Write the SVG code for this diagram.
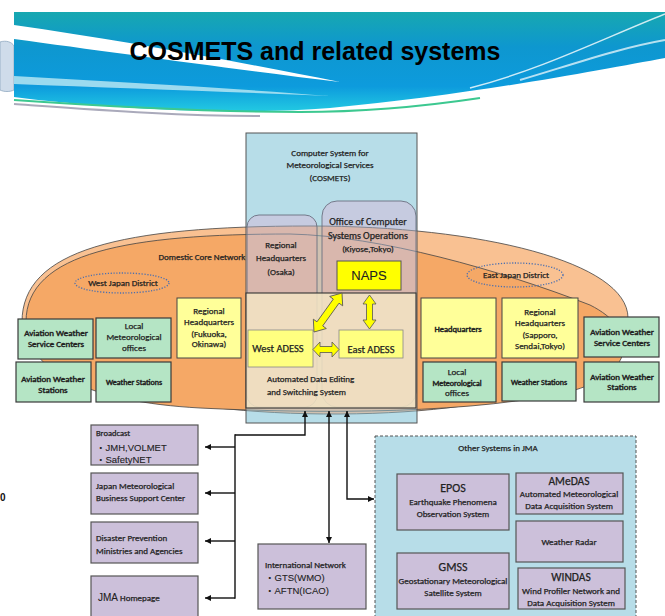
<svg xmlns="http://www.w3.org/2000/svg" width="665" height="616" viewBox="0 0 665 616">
<defs>
  <linearGradient id="bannerGrad" x1="0" y1="0" x2="0" y2="1">
    <stop offset="0" stop-color="#17A8B0"/>
    <stop offset="0.35" stop-color="#0E97CF"/>
    <stop offset="0.75" stop-color="#0D9BDD"/>
    <stop offset="1" stop-color="#22C9E2"/>
  </linearGradient>
  <clipPath id="cosClip"><rect x="246" y="133" width="171" height="290"/></clipPath>
  <marker id="ah" viewBox="0 0 10 10" refX="10" refY="5" markerWidth="6" markerHeight="7" markerUnits="userSpaceOnUse" orient="auto-start-reverse">
    <path d="M0,0 L10,5 L0,10 Z" fill="#111"/>
  </marker>
  <style>
    .t { font-family: Carlito, "Liberation Sans Narrow", "Liberation Sans", "Noto Sans CJK JP", sans-serif; font-size: 9px; fill: #222; stroke: #222; stroke-width: 0.25; text-anchor: middle; }
    .s { text-anchor: start; }
    .b { stroke-width: 0.45; }
    .a { font-family: "Liberation Sans", Arial, "Noto Sans CJK JP", sans-serif; stroke-width: 0.1; }
    .f8 { font-size: 8px; }
    .f85 { font-size: 8.5px; }
    .f95 { font-size: 9.5px; }
    .f10 { font-size: 10px; }
    .f105 { font-size: 10.5px; }
    .f115 { font-size: 11.5px; }
    .f12 { font-size: 12px; }
    .f13 { font-size: 13px; }
    .green { fill: #B5E5C5; stroke: #3A3A3A; stroke-width: 1.2; }
    .yel { fill: #FFFF99; stroke: #444; stroke-width: 1; }
    .pur { fill: #CCC0DA; stroke: #555; stroke-width: 1.2; }
    .conn { fill: none; stroke: #111; stroke-width: 1.4; }
    .barrow { fill: #FFFF00; stroke: #555; stroke-width: 0.8; }
    .ell { stroke: #444; stroke-width: 0.8; }
    .dist { fill: none; stroke: #4A6FB0; stroke-width: 1.3; stroke-dasharray: 1.2,1.6; }
  </style>
</defs>

<!-- page background -->
<rect x="0" y="0" width="665" height="616" fill="#FFFFFF"/>

<!-- banner -->
<g id="banner">
  <path d="M0,42 C6,40 12,42 14,46 V90 C10,92 4,92 0,90 Z" fill="#CFDCEA" stroke="#8FA8C0" stroke-width="0.8"/>
  <path d="M14,12 H665 V58 C600,70 470,95 330,108 C230,116 100,108 14,97 Z" fill="url(#bannerGrad)"/>
  <path d="M14,25 C120,40 240,62 340,82 C240,70 110,52 14,39 Z" fill="#FFFFFF"/>
  <path d="M14,76 C120,82 230,88 330,96 C230,92 120,88 14,84 Z" fill="#BFEAF4" opacity="0.8"/>
  <path d="M470,88 C540,70 600,40 665,14" stroke="#FFFFFF" stroke-width="1.5" fill="none" opacity="0.8"/>
  <path d="M520,80 C580,62 620,48 665,40" stroke="#FFFFFF" stroke-width="2" fill="none" opacity="0.7"/>
  <path d="M14,100 C100,106 200,112 300,112 C380,112 440,104 480,98" stroke="#3CC890" stroke-width="2" fill="none"/>
  <path d="M14,104 C100,110 180,116 260,116" stroke="#AAAABB" stroke-width="2" fill="none"/>
  <text x="315" y="60" font-family="Liberation Sans, Arial, sans-serif" font-weight="bold" font-size="25" text-anchor="middle" fill="#000">COSMETS and related systems</text>
</g>
<text x="0" y="501" font-family="Liberation Sans, Arial, sans-serif" font-weight="bold" font-size="10" fill="#111">0</text>

<!-- networks -->
<g id="domestic-core-network">
  <path class="ell" d="M22,322 C22,250 120,226 310,226 C480,226 628,262 628,318 C628,372 520,413 340,414 C160,415 22,375 22,322 Z" fill="#F9C192"/>
  <path class="ell" d="M26,322 C26,252 130,234 290,234 C380,236 500,270 590,305 C640,330 635,372 575,390 C480,414 320,414 200,408 C90,402 26,372 26,322 Z" fill="#F5A866"/>
  <text class="t" x="202" y="260">Domestic Core Network</text>
</g>

<g id="west-japan-district">
  <ellipse class="dist" cx="122" cy="283" rx="47" ry="10"/>
  <text class="t" x="123" y="286">West Japan District</text>
</g>
<g id="east-japan-district">
  <ellipse class="dist" cx="515" cy="275" rx="48" ry="12"/>
  <text class="t" x="516" y="278">East Japan District</text>
</g>

<!-- COSMETS -->
<g id="cosmets">
  <rect x="246" y="133" width="171" height="290" fill="#B7DDE8" stroke="#555" stroke-width="1"/>
  <text class="t" x="330" y="156">Computer System for</text>
  <text class="t" x="330" y="168">Meteorological Services</text>
  <text class="t" x="330" y="181">(COSMETS)</text>
</g>
<g id="regional-hq-osaka">
  <rect x="247" y="215" width="70" height="192" rx="12" fill="#C6CBE0"/>
</g>
<g id="office-computer-systems">
  <rect x="322" y="201" width="94" height="206" rx="15" fill="#C6CBE0"/>
</g>
<g clip-path="url(#cosClip)" opacity="0.45">
  <path d="M22,322 C22,250 120,226 310,226 C480,226 628,262 628,318 C628,372 520,413 340,414 C160,415 22,375 22,322 Z" fill="#F0A070" stroke="#333" stroke-width="1"/>
  <path d="M26,322 C26,252 130,234 290,234 C380,236 500,270 590,305 C640,330 635,372 575,390 C480,414 320,414 200,408 C90,402 26,372 26,322 Z" fill="#F0A070" stroke="#333" stroke-width="1"/>
</g>
<rect x="247" y="215" width="70" height="192" rx="12" fill="none" stroke="#6A6F80" stroke-width="0.9"/>
<rect x="322" y="201" width="94" height="206" rx="15" fill="none" stroke="#6A6F80" stroke-width="0.9"/>
<text class="t" x="281" y="248">Regional</text>
<text class="t" x="281" y="261">Headquarters</text>
<text class="t" x="281" y="275">(Osaka)</text>
<text class="t f10" x="368" y="225">Office of Computer</text>
<text class="t f10" x="368" y="239">Systems Operations</text>
<text class="t" x="368" y="252">(Kiyose,Tokyo)</text>

<g id="naps">
  <rect x="337" y="261" width="64" height="29" fill="#FFFF00" stroke="#555" stroke-width="1"/>
  <text class="t a f13" x="369" y="280">NAPS</text>
</g>

<g id="adess">
  <rect x="246" y="293" width="170" height="115" fill="#F1E2C3" fill-opacity="0.88" stroke="#333" stroke-width="1.1"/>
  <text class="t s" x="267" y="382">Automated  Data Editing</text>
  <text class="t s" x="267" y="395">and Switching System</text>
</g>
<g id="west-adess">
  <rect x="248" y="330" width="65" height="37" fill="#FFFF80" stroke="#888" stroke-width="0.8"/>
  <text class="t f105" x="278" y="352">West ADESS</text>
</g>
<g id="east-adess">
  <rect x="339" y="330" width="64" height="28" fill="#FFFF80" stroke="#888" stroke-width="0.8"/>
  <text class="t f105" x="371" y="353">East ADESS</text>
</g>

<!-- block arrows -->
<g id="block-arrows">
  <polygon class="barrow" transform="translate(326,349.5)" points="-13,0 -6,-7.5 -6,-3 6,-3 6,-7.5 13,0 6,7.5 6,3 -6,3 -6,7.5"/>
  <polygon class="barrow" transform="translate(369.5,312) rotate(90)" points="-17,0 -8,-6.5 -8,-3 8,-3 8,-6.5 17,0 8,6.5 8,3 -8,3 -8,6.5"/>
  <polygon class="barrow" transform="translate(328,312.5) rotate(125.7)" points="-24,0 -14,-8 -14,-3.5 14,-3.5 14,-8 24,0 14,8 14,3.5 -14,3.5 -14,8"/>
</g>

<!-- West boxes -->
<g id="west-aviation-service-centers">
  <rect class="green" x="18" y="319" width="75" height="40"/>
  <text class="t b" x="56" y="336">Aviation Weather</text>
  <text class="t b" x="56" y="347">Service Centers</text>
</g>
<g id="west-local-offices">
  <rect class="green" x="96" y="318" width="75" height="40"/>
  <text class="t" x="134" y="329">Local</text>
  <text class="t" x="134" y="340">Meteorological</text>
  <text class="t" x="134" y="351">offices</text>
</g>
<g id="west-aviation-stations">
  <rect class="green" x="16" y="362" width="75" height="40"/>
  <text class="t b" x="53" y="382">Aviation Weather</text>
  <text class="t b" x="53" y="393">Stations</text>
</g>
<g id="west-weather-stations">
  <rect class="green" x="96" y="362" width="75" height="40"/>
  <text class="t b f8" x="134" y="385">Weather Stations</text>
</g>
<g id="regional-hq-fukuoka">
  <rect class="yel" x="177" y="298" width="64" height="60"/>
  <text class="t" x="209" y="314">Regional</text>
  <text class="t" x="209" y="325">Headquarters</text>
  <text class="t" x="209" y="337">(Fukuoka,</text>
  <text class="t" x="209" y="347">Okinawa)</text>
</g>

<!-- East boxes -->
<g id="headquarters">
  <rect class="yel" x="421" y="298" width="75" height="60"/>
  <text class="t b f85" x="458" y="332">Headquarters</text>
</g>
<g id="regional-hq-sapporo">
  <rect class="yel" x="502" y="298" width="76" height="60"/>
  <text class="t" x="540" y="315">Regional</text>
  <text class="t" x="540" y="326">Headquarters</text>
  <text class="t" x="540" y="338">(Sapporo,</text>
  <text class="t" x="540" y="349">Sendai,Tokyo)</text>
</g>
<g id="east-aviation-service-centers">
  <rect class="green" x="584" y="317" width="75" height="40"/>
  <text class="t b" x="622" y="335">Aviation Weather</text>
  <text class="t b" x="622" y="346">Service Centers</text>
</g>
<g id="east-local-offices">
  <rect class="green" x="423" y="362" width="73" height="40"/>
  <text class="t" x="457" y="375">Local</text>
  <text class="t b f8" x="457" y="386">Meteorological</text>
  <text class="t" x="457" y="396">offices</text>
</g>
<g id="east-weather-stations">
  <rect class="green" x="502" y="362" width="74" height="39"/>
  <text class="t b f8" x="539" y="385">Weather Stations</text>
</g>
<g id="east-aviation-stations">
  <rect class="green" x="584" y="362" width="75" height="40"/>
  <text class="t b" x="622" y="380">Aviation Weather</text>
  <text class="t b" x="622" y="390">Stations</text>
</g>

<!-- Bottom left boxes -->
<g id="broadcast">
  <rect class="pur" x="91" y="425" width="107" height="40"/>
  <text class="t s f85" x="96" y="436">Broadcast</text>
  <text class="t s a f95" x="96" y="451">・JMH,VOLMET</text>
  <text class="t s a f95" x="96" y="463">・SafetyNET</text>
</g>
<g id="jmbsc">
  <rect class="pur" x="91" y="473" width="107" height="41"/>
  <text class="t s" x="96" y="489">Japan  Meteorological</text>
  <text class="t s" x="96" y="501">Business Support Center</text>
</g>
<g id="disaster-prevention">
  <rect class="pur" x="91" y="522" width="107" height="41"/>
  <text class="t s" x="96" y="541">Disaster Prevention</text>
  <text class="t s" x="96" y="554">Ministries and Agencies</text>
</g>
<g id="jma-homepage">
  <rect class="pur" x="91" y="576" width="107" height="50"/>
  <text class="t s" x="98" y="601"><tspan class="a f10">JMA</tspan> Homepage</text>
</g>

<g id="international-network">
  <rect class="pur" x="258" y="544" width="108" height="65"/>
  <text class="t s" x="265" y="568">International Network</text>
  <text class="t s a f95" x="265" y="581">・GTS(WMO)</text>
  <text class="t s a f95" x="265" y="594">・AFTN(ICAO)</text>
</g>

<!-- Other systems -->
<g id="other-systems">
  <rect x="375" y="436" width="261" height="190" fill="#B7DDE8" stroke="#555" stroke-width="1" stroke-dasharray="3,2"/>
  <text class="t" x="498" y="451">Other Systems in JMA</text>
</g>
<g id="epos">
  <rect class="pur" x="397" y="474" width="112" height="56"/>
  <text class="t f12" x="453" y="492">EPOS</text>
  <text class="t" x="453" y="505">Earthquake Phenomena</text>
  <text class="t" x="453" y="517">Observation System</text>
</g>
<g id="amedas">
  <rect class="pur" x="516" y="473" width="107" height="41"/>
  <text class="t f115" x="569" y="485">AMeDAS</text>
  <text class="t" x="569" y="497">Automated  Meteorological</text>
  <text class="t" x="569" y="509">Data Acquisition  System</text>
</g>
<g id="weather-radar">
  <rect class="pur" x="516" y="521" width="107" height="41"/>
  <text class="t" x="569" y="545">Weather Radar</text>
</g>
<g id="gmss">
  <rect class="pur" x="397" y="553" width="112" height="56"/>
  <text class="t f12" x="453" y="571">GMSS</text>
  <text class="t" x="453" y="584">Geostationary Meteorological</text>
  <text class="t" x="453" y="596">Satellite System</text>
</g>
<g id="windas">
  <rect class="pur" x="518" y="568" width="107" height="41"/>
  <text class="t f115" x="571" y="581">WINDAS</text>
  <text class="t" x="571" y="594">Wind Profiler Network and</text>
  <text class="t" x="571" y="606">Data Acquisition  System</text>
</g>

<!-- connectors -->
<g id="connectors">
  <path class="conn" d="M235,435 H305 V411" marker-end="url(#ah)"/>
  <path class="conn" d="M235,434.3 V598.7"/>
  <path class="conn" d="M235,447 H205" marker-end="url(#ah)"/>
  <path class="conn" d="M235,493 H205" marker-end="url(#ah)"/>
  <path class="conn" d="M235,541 H205" marker-end="url(#ah)"/>
  <path class="conn" d="M235,598 H205" marker-end="url(#ah)"/>
  <path class="conn" d="M329,411 V543" marker-start="url(#ah)" marker-end="url(#ah)"/>
  <path class="conn" d="M347,411 V499 H374" marker-start="url(#ah)" marker-end="url(#ah)"/>
</g>
</svg>
